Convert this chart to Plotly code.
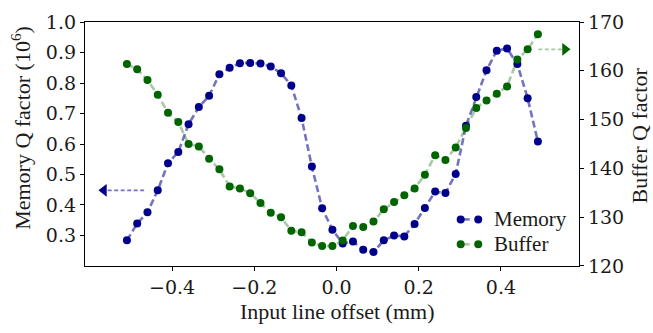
import plotly.graph_objects as go

# ---------------- data ----------------
offset_mm = [-0.510, -0.485, -0.460, -0.435, -0.410, -0.385, -0.360, -0.335, -0.310, -0.285,
             -0.260, -0.235, -0.210, -0.185, -0.160, -0.135, -0.110, -0.085, -0.060, -0.035,
             -0.010, 0.015, 0.040, 0.065, 0.090, 0.115, 0.140, 0.165, 0.190, 0.215,
             0.240, 0.265, 0.290, 0.315, 0.340, 0.365, 0.390, 0.415, 0.440, 0.465, 0.490]

memory_q = [0.284, 0.339, 0.376, 0.448, 0.537, 0.574, 0.665, 0.721, 0.758, 0.829,
            0.850, 0.865, 0.866, 0.864, 0.854, 0.832, 0.792, 0.685, 0.526, 0.389,
            0.319, 0.274, 0.280, 0.253, 0.246, 0.284, 0.300, 0.297, 0.338, 0.390,
            0.444, 0.439, 0.502, 0.660, 0.754, 0.842, 0.906, 0.913, 0.862, 0.750, 0.608]

buffer_q = [161.4, 160.3, 158.1, 155.1, 151.4, 149.5, 145.0, 144.5, 142.0, 139.8,
            136.3, 135.9, 134.9, 132.9, 130.9, 130.0, 127.2, 126.9, 124.8, 124.1,
            124.1, 125.2, 128.2, 128.0, 129.1, 131.6, 133.1, 134.5, 135.9, 138.7,
            142.7, 141.7, 144.3, 148.3, 152.4, 153.9, 155.3, 156.8, 162.3, 164.4, 167.5]

series_names = ["Memory", "Buffer"]

x_ticks = [-0.4, -0.2, 0.0, 0.2, 0.4]
x_tick_labels = ["\u22120.4", "\u22120.2", "0.0", "0.2", "0.4"]
y1_ticks = [0.3, 0.4, 0.5, 0.6, 0.7, 0.8, 0.9, 1.0]
y1_tick_labels = ["0.3", "0.4", "0.5", "0.6", "0.7", "0.8", "0.9", "1.0"]
y2_ticks = [120, 130, 140, 150, 160, 170]
y2_tick_labels = ["120", "130", "140", "150", "160", "170"]

x_title = "Input line offset (mm)"
y1_title = "Memory Q factor (10<sup>6</sup>)"
y2_title = "Buffer Q factor"

# arrows pointing at the axis each series belongs to (start x, tip x, y)
mem_arrow = (-0.468, -0.566, 0.448)
buf_arrow = (0.491, 0.556, 164.4)

# ---------------- style ----------------
FONT = "Liberation Serif"
TICKFONT = "DejaVu Serif"
FS = 22
TFS = 19
LFS = 21
TXT = "#1a1a1a"
MEM_MK = "#00008B"
MEM_LN = "rgba(0,0,139,0.55)"
BUF_MK = "#006400"
BUF_LN = "rgba(0,100,0,0.35)"

fig = go.Figure()

fig.add_trace(go.Scatter(
    x=offset_mm, y=memory_q, name=series_names[0], mode="lines+markers",
    line=dict(color=MEM_LN, width=2.6, dash="7px,3.5px"),
    marker=dict(color=MEM_MK, size=8), yaxis="y", showlegend=False))

fig.add_trace(go.Scatter(
    x=offset_mm, y=buffer_q, name=series_names[1], mode="lines+markers",
    line=dict(color=BUF_LN, width=2.6, dash="7px,3.5px"),
    marker=dict(color=BUF_MK, size=8), yaxis="y2", showlegend=False))

# arrow shafts (dashed) + heads
fig.add_trace(go.Scatter(
    x=[mem_arrow[0], mem_arrow[1]], y=[mem_arrow[2], mem_arrow[2]], mode="lines",
    line=dict(color=MEM_LN, width=1.6, dash="4px,2.5px"), yaxis="y",
    showlegend=False, hoverinfo="skip"))
fig.add_trace(go.Scatter(
    x=[buf_arrow[0], buf_arrow[1]], y=[buf_arrow[2], buf_arrow[2]], mode="lines",
    line=dict(color=BUF_LN, width=1.6, dash="4px,2.5px"), yaxis="y2",
    showlegend=False, hoverinfo="skip"))
fig.add_trace(go.Scatter(
    x=[mem_arrow[1]], y=[mem_arrow[2]], mode="markers",
    marker=dict(symbol="triangle-left", size=11, color=MEM_MK), yaxis="y",
    showlegend=False, hoverinfo="skip"))
fig.add_trace(go.Scatter(
    x=[buf_arrow[1]], y=[buf_arrow[2]], mode="markers",
    marker=dict(symbol="triangle-right", size=11, color=BUF_MK), yaxis="y2",
    showlegend=False, hoverinfo="skip"))

# ---------------- custom legend (matplotlib style: two markers + dash) ----------------
shapes = []
annotations = []
legend_rows = [(series_names[0], MEM_MK, MEM_LN, 0.191), (series_names[1], BUF_MK, BUF_LN, 0.089)]
lx0, lx1 = 0.7605, 0.796
for name, mk, ln, ly in legend_rows:
    shapes.append(dict(type="line", xref="paper", yref="paper", x0=lx0, x1=lx1, y0=ly, y1=ly,
                       line=dict(color=ln, width=2.6, dash="dash")))
    for lx in (lx0, lx1):
        shapes.append(dict(type="circle", xref="paper", yref="paper",
                           xsizemode="pixel", ysizemode="pixel", xanchor=lx, yanchor=ly,
                           x0=-4, x1=4, y0=-4, y1=4,
                           fillcolor=mk, line=dict(color=mk, width=0)))
    annotations.append(dict(text=name, xref="paper", yref="paper", x=0.824, y=ly,
                            xanchor="left", yanchor="middle", showarrow=False,
                            font=dict(family=FONT, size=LFS, color=TXT)))

# axis titles as annotations (precise placement)
annotations.append(dict(text=x_title, xref="paper", yref="paper", x=0.512, y=-0.188,
                        xanchor="center", yanchor="middle", showarrow=False,
                        font=dict(family=FONT, size=FS, color=TXT)))
annotations.append(dict(text=y1_title, xref="paper", yref="paper", x=-0.1296, y=0.566,
                        xanchor="center", yanchor="middle", showarrow=False, textangle=-90,
                        font=dict(family=FONT, size=FS, color=TXT)))
annotations.append(dict(text=y2_title, xref="paper", yref="paper", x=1.1215, y=0.535,
                        xanchor="center", yanchor="middle", showarrow=False, textangle=-90,
                        font=dict(family=FONT, size=FS, color=TXT)))

axis_common = dict(showgrid=False, zeroline=False, ticks="outside", ticklen=4, tickwidth=1,
                   tickcolor="black", showline=True, linecolor="black", linewidth=1.3,
                   ticklabeloverflow="allow",
                   tickfont=dict(family=TICKFONT, size=TFS, color=TXT))

fig.update_layout(
    width=653, height=333,
    margin=dict(l=85, r=74, t=11, b=67),
    paper_bgcolor="white", plot_bgcolor="white",
    showlegend=False,
    font=dict(family=FONT, size=FS, color=TXT),
    xaxis=dict(range=[-0.612, 0.590], tickvals=x_ticks, ticktext=x_tick_labels, mirror=True,
               **axis_common),
    yaxis=dict(range=[0.1999, 1.0001], tickvals=y1_ticks, ticktext=y1_tick_labels,
               **axis_common),
    yaxis2=dict(range=[119.99, 170.01], tickvals=y2_ticks, ticktext=y2_tick_labels,
                overlaying="y", side="right", **axis_common),
    shapes=shapes,
    annotations=annotations,
)

fig.write_html("out.html", config={"displayModeBar": False},
               post_script="document.body.style.margin='0px';")
